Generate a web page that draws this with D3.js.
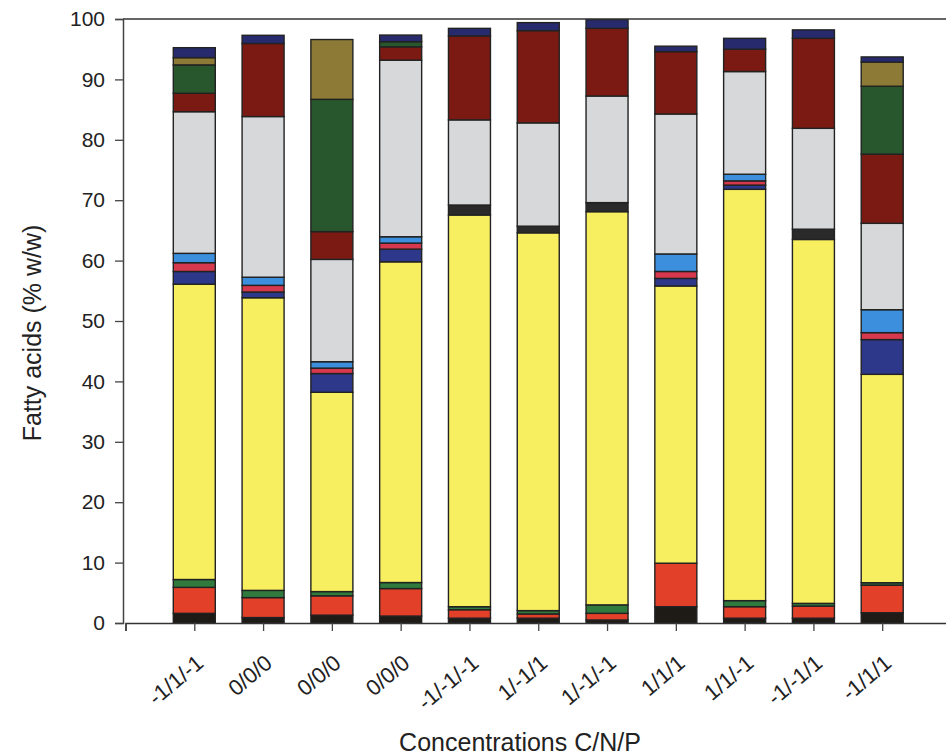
<!DOCTYPE html>
<html>
<head>
<meta charset="utf-8">
<script src="https://cdn.jsdelivr.net/npm/d3@7"></script>
<style>
  html, body { margin: 0; padding: 0; background: #fff; }
  svg { display: block; font-family: "Liberation Sans", Arial, Helvetica, sans-serif; }
</style>
</head>
<body>
<svg id="chart" width="946" height="756"></svg>
<script>
// Culture conditions (C/N/P levels), one stacked bar each
const categories = ["-1/1/-1", "0/0/0", "0/0/0", "0/0/0", "-1/-1/-1", "1/-1/1",
                    "1/-1/-1", "1/1/1", "1/1/-1", "-1/-1/1", "-1/1/1"];

// Fatty acid fractions (% w/w), stacked from the bottom up
const fa1  = [1.6, 0.9, 1.3, 1.15, 0.8, 0.8, 0.5, 2.7, 0.8, 0.8, 1.7];
const fa2  = [4.3, 3.3, 3.2, 4.55, 1.4, 0.7, 1.1, 7.2, 1.9, 2.0, 4.57];
const fa3  = [1.3, 1.2, 0.7, 1.0, 0.5, 0.55, 1.4, 0, 1.0, 0.45, 0.4];
const fa4  = [48.9, 48.45, 33.0, 53.1, 64.85, 62.55, 65.1, 45.9, 68.1, 60.25, 34.5];
const fa5  = [2.1, 0.95, 3.1, 2.1, 0, 0, 0, 1.25, 0.7, 0, 5.75];
const fa6  = [0, 0, 0, 0, 1.65, 1.1, 1.5, 0, 0, 1.7, 0];
const fa7  = [1.45, 1.1, 0.9, 1.0, 0, 0, 0, 1.15, 0.7, 0, 1.15];
const fa8  = [1.55, 1.35, 1.06, 1.05, 0, 0, 0, 2.9, 1.1, 0, 3.8];
const fa9  = [23.45, 26.6, 16.94, 29.24, 14.1, 17.1, 17.65, 23.17, 17.0, 16.7, 14.3];
const fa10 = [3.05, 12.1, 4.6, 2.2, 13.9, 15.27, 11.2, 10.33, 3.7, 14.9, 11.45];
const fa11 = [4.7, 0, 21.9, 0.85, 0, 0, 0, 0, 0, 0, 11.25];
const fa12 = [1.2, 0, 9.9, 0, 0, 0, 0, 0, 0, 0, 4.0];
const fa13 = [1.65, 1.35, 0, 1.1, 1.25, 1.33, 1.45, 0.9, 1.8, 1.4, 0.85];

const seriesValues = [fa1, fa2, fa3, fa4, fa5, fa6, fa7, fa8, fa9, fa10, fa11, fa12, fa13];
const seriesColors = ["#1e1a16", "#e3402a", "#2f7a3c", "#f7ee60", "#2d388a", "#2a2a2a",
                      "#d6384e", "#3b8fdc", "#d6d8da", "#7a1a12", "#28562d", "#8c7a36", "#272b6e"];

const yTicks = [0, 10, 20, 30, 40, 50, 60, 70, 80, 90, 100];

// Build rows for d3.stack
const keys = seriesValues.map((_, i) => "s" + i);
const rows = categories.map((c, j) => {
  const r = { idx: j + 1, label: c };
  seriesValues.forEach((arr, i) => { r[keys[i]] = arr[j]; });
  return r;
});
const stacked = d3.stack().keys(keys)(rows);

const svg = d3.select("#chart");
const axisX = 123, plotLeft = 125.5, plotTop = 19, plotBottom = 623, plotRight = 951;

const x = d3.scaleLinear().domain([0, 12]).range([plotLeft, plotRight]);
const y = d3.scaleLinear().domain([0, 100]).range([plotBottom, plotTop]);
const barW = 42;

// Bars
const g = svg.append("g");
stacked.forEach((layer, i) => {
  g.selectAll(null)
    .data(layer.filter(d => d[1] - d[0] > 0))
    .enter().append("rect")
    .attr("x", d => x(d.data.idx) - barW / 2)
    .attr("y", d => y(d[1]))
    .attr("width", barW)
    .attr("height", d => y(d[0]) - y(d[1]))
    .attr("fill", seriesColors[i])
    .attr("stroke", "#222")
    .attr("stroke-width", 1.4);
});

// Frame: top line
svg.append("line")
  .attr("x1", axisX).attr("x2", 946).attr("y1", plotTop).attr("y2", plotTop)
  .attr("stroke", "#333").attr("stroke-width", 1.6);

// Y axis
const yAxis = svg.append("g")
  .attr("transform", `translate(${axisX},0)`)
  .call(d3.axisLeft(y).tickValues(yTicks).tickSize(8).tickPadding(10));
yAxis.select(".domain").attr("stroke", "#444").attr("stroke-width", 1.5);
yAxis.selectAll(".tick line").attr("stroke", "#444").attr("stroke-width", 1.3);
yAxis.selectAll(".tick text")
  .attr("font-size", 21).attr("fill", "#222")
  .attr("font-family", "'Liberation Sans', Arial, sans-serif");

// X axis
const xAxis = svg.append("g")
  .attr("transform", `translate(0,${plotBottom})`)
  .call(d3.axisBottom(x).tickValues(d3.range(0, 12)).tickSize(8)
        .tickFormat(v => v === 0 ? "" : categories[v - 1]));
xAxis.select(".domain").attr("stroke", "#333").attr("stroke-width", 1.6);
xAxis.selectAll(".tick line").attr("stroke", "#444").attr("stroke-width", 1.3);
xAxis.selectAll(".tick text")
  .attr("font-size", 22).attr("fill", "#222")
  .attr("font-family", "'Liberation Sans', Arial, sans-serif")
  .attr("text-anchor", "end")
  .attr("dy", 0)
  .attr("transform", "translate(3,34) rotate(-40)");

// Axis titles
svg.append("text")
  .attr("x", 520).attr("y", 751)
  .attr("text-anchor", "middle")
  .attr("font-size", 25).attr("fill", "#222")
  .text("Concentrations C/N/P");

svg.append("text")
  .attr("transform", "translate(41,333) rotate(-90)")
  .attr("text-anchor", "middle")
  .attr("font-size", 25).attr("fill", "#222")
  .text("Fatty acids (% w/w)");
</script>
</body>
</html>
